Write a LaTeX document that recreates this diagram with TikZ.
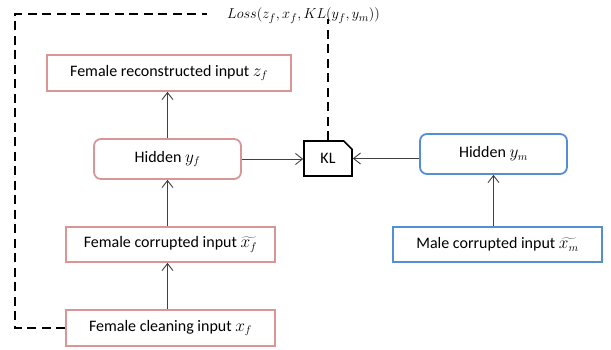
\documentclass[tikz,border=0pt]{standalone}
\usepackage{fontspec}
\setmainfont{Carlito}
\usetikzlibrary{arrows.meta,shapes.misc}

\definecolor{femaleline}{RGB}{217,150,148}
\definecolor{maleline}{RGB}{85,142,213}
\definecolor{linkgray}{RGB}{64,64,64}

\tikzset{
  every node/.style={font=\fontsize{16}{19}\selectfont, inner sep=0pt},
  femalebox/.style={draw=femaleline, line width=1.8pt, fill=white},
  malebox/.style={draw=maleline, line width=1.8pt, fill=white},
  hiddenbox/.style={rounded corners=7pt},
  klbox/.style={chamfered rectangle, chamfered rectangle corners=north east,
    chamfered rectangle xsep=6pt, draw=black, line width=1.6pt,
    minimum width=48pt, minimum height=35pt},
  link/.style={draw=linkgray, line width=0.9pt,
    -{Straight Barb[length=7pt,width=11pt,line width=0.9pt]}},
  lossline/.style={draw=black, line width=1.2pt, dash pattern=on 9pt off 5.5pt}
}

\begin{document}
\begin{tikzpicture}[x=1pt,y=-1pt]
  \useasboundingbox (0,0) rectangle (611,350);

  % female branch
  \node[femalebox, minimum width=244pt, minimum height=36pt] (rec) at (169,73)
    {Female reconstructed input $z_f$};
  \node[femalebox, hiddenbox, minimum width=147pt, minimum height=40pt] (hf) at (167.5,159)
    {Hidden $y_f$};
  \node[femalebox, minimum width=209pt, minimum height=35pt] (cor) at (170.5,244.5)
    {Female corrupted input $\widetilde{x_f}$};
  \node[femalebox, minimum width=209pt, minimum height=36pt] (cln) at (170.5,328)
    {Female cleaning input $x_f$};

  % male branch
  \node[malebox, hiddenbox, minimum width=147pt, minimum height=40pt] (hm) at (493.5,154)
    {Hidden $y_m$};
  \node[malebox, minimum width=209pt, minimum height=35pt] (mc) at (497.5,244.5)
    {Male corrupted input $\widetilde{x_m}$};

  % divergence block
  \node[klbox] (kl) at (328,158.5) {KL};

  % loss label
  \node[anchor=base west, inner sep=0pt, font=\fontsize{15}{18}\selectfont] (loss) at (227,19)
    {$Loss(z_f,x_f,KL(y_f,y_m))$};

  % data flow
  \draw[link] (hf.south |- cln.north) -- (hf.south |- cor.south);
  \draw[link] (hf.south |- cor.north) -- (hf.south);
  \draw[link] (hf.north) -- (hf.north |- rec.south);
  \draw[link] (hf.east) -- (hf.east -| kl.west);
  \draw[link] (hm.west |- kl.east) -- (kl.east);
  \draw[link] (hm.south |- mc.north) -- (hm.south);

  % loss paths
  \coordinate (lossend) at ([xshift=-20pt]loss.west |- 0,14);
  \coordinate (corner) at (15,14);
  \draw[lossline] (cln.west) -| (corner) -- (lossend);
  \draw[lossline] (kl.north) -- ([yshift=5pt]kl.north |- loss.south);
\end{tikzpicture}
\end{document}
